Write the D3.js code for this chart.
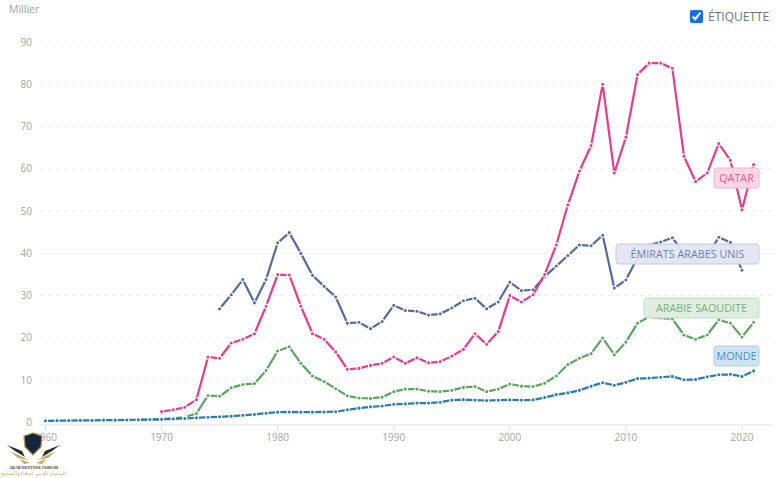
<!DOCTYPE html>
<html><head><meta charset="utf-8">
<script src="https://d3js.org/d3.v7.min.js"></script>
<style>
html,body{margin:0;padding:0;background:#fff;overflow:hidden}
#wrap{position:relative;width:776px;height:478px;font-family:"Open Sans",sans-serif}
svg{position:absolute;left:0;top:0}
#tog{position:absolute;left:690px;top:8px;display:flex;align-items:center;font-size:12px;color:#6c757d}
#tog input{margin:0 5px 0 0;width:13px;height:13px;accent-color:#0b6ffd}
</style></head><body>
<div id="wrap"><svg id="c" width="776" height="478"></svg>
<label id="tog"><input type="checkbox" checked>ÉTIQUETTE</label></div>
<script>
const yTicks=[0,10,20,30,40,50,60,70,80,90];
const xTicks=[1960,1970,1980,1990,2000,2010,2020];
const yLabel="Millier";
const qatarStart=1970;
const qatar=[2.6,3.0,3.6,5.4,15.5,15.2,18.8,19.7,21.0,27.5,35,34.9,27.5,21,19.7,16.7,12.6,12.8,13.5,14,15.5,14,15.3,14.1,14.4,15.7,17.3,21,18.5,21.5,30,28.5,30.2,35,42,51.5,59.5,65.5,80,59,67.5,82.3,85,85,83.8,63,57,59,66,62,50.3,61];
const uaeStart=1975;
const uae=[26.9,30.2,33.8,28.3,33.8,42.5,44.9,40,34.8,32.2,29.7,23.5,23.7,22.2,23.9,27.7,26.5,26.3,25.4,25.7,27.1,28.8,29.4,26.9,28.5,33.2,31.2,31.4,34.5,37,39.5,42,41.8,44.3,31.8,33.7,39,42,42.7,43.7,40,38.3,39.5,43.8,42.6,36];
const saudiStart=1968;
const saudi=[0.7,0.7,0.8,1.0,1.3,2.1,6.4,6.2,8.2,9.0,9.2,12.3,16.9,17.9,14,11,9.7,8,6.3,5.8,5.7,6,7.3,7.9,7.9,7.4,7.3,7.6,8.3,8.5,7.3,7.9,9.1,8.6,8.5,9.3,11,13.7,15.2,16.3,20,16,19,23.5,25,24.7,24.5,20.7,19.7,20.7,24.3,23.5,20.2,23.7];
const worldStart=1960;
const world=[.4,.45,.45,.5,.5,.55,.55,.6,.65,.7,.75,.85,.95,1.1,1.25,1.35,1.5,1.7,1.9,2.2,2.45,2.5,2.45,2.45,2.5,2.55,3.0,3.4,3.7,3.9,4.3,4.4,4.6,4.6,4.8,5.3,5.4,5.3,5.2,5.3,5.35,5.3,5.35,5.9,6.6,7.0,7.6,8.6,9.4,8.8,9.5,10.4,10.5,10.7,10.9,10.1,10.2,10.8,11.3,11.4,10.9,12.2];
const series=[
 {name:"ÉMIRATS ARABES UNIS",start:uaeStart,v:uae,c:"#566a9c",bg:"#e3e6f1",bd:"#c5cae0",right:759,w:143,ly:254},
 {name:"QATAR",start:qatarStart,v:qatar,c:"#e63c8c",bg:"#f9d5e4",bd:"#f4b3cf",right:759,w:45,ly:178},
 {name:"ARABIE SAOUDITE",start:saudiStart,v:saudi,c:"#5ba55f",bg:"#deecdf",bd:"#bfe0c1",right:759,w:115,ly:308},
 {name:"MONDE",start:worldStart,v:world,c:"#2a7ab8",bg:"#cfe2f2",bd:"#a9cde9",right:759,w:45,ly:356}
];
const svg=d3.select("#c");
const x=d3.scaleLinear().domain([1960,2020]).range([45.5,742]);
const y=d3.scaleLinear().domain([0,90]).range([422.5,42]);
const grey="#a4a4a4";
svg.append("text").attr("x",9).attr("y",13).attr("font-size",10.5).attr("fill","#9a9ea3").text(yLabel);
const gy=svg.append("g");
gy.selectAll("line").data(yTicks.filter(d=>d>0)).join("line")
 .attr("x1",40).attr("x2",773).attr("y1",d=>y(d)).attr("y2",d=>y(d))
 .attr("stroke","#ececec").attr("stroke-width",1).attr("stroke-dasharray","4 4");
gy.selectAll("text").data(yTicks).join("text")
 .attr("x",32).attr("y",d=>y(d)+3.5).attr("text-anchor","end").attr("font-size",10).attr("fill",grey).text(d=>d);
const gx=svg.append("g");
gx.append("line").attr("x1",40).attr("x2",773).attr("y1",425).attr("y2",425).attr("stroke","#eef0f1").attr("stroke-width",2);
gx.selectAll("line.t").data(xTicks).join("line").attr("class","t")
 .attr("x1",d=>x(d)).attr("x2",d=>x(d)).attr("y1",426).attr("y2",431).attr("stroke","#e2e2e2");
gx.selectAll("text").data(xTicks).join("text")
 .attr("x",d=>x(d)).attr("y",441).attr("text-anchor","middle").attr("font-size",10).attr("fill",grey).text(d=>d);
const line=d3.line().x(d=>x(d.year)).y(d=>y(d.val));
series.forEach(s=>{
 const pts=s.v.map((val,i)=>({year:s.start+i,val}));
 const g=svg.append("g");
 g.append("path").attr("d",line(pts)).attr("fill","none").attr("stroke",s.c).attr("stroke-width",2.2);
 g.selectAll("circle").data(pts).join("circle")
  .attr("cx",d=>x(d.year)).attr("cy",d=>y(d.val)).attr("r",2.1)
  .attr("fill",s.c).attr("stroke","#fff").attr("stroke-width",1.1);
});
series.forEach(s=>{
 const g=svg.append("g");
 g.append("rect").attr("x",s.right-s.w).attr("y",s.ly-10).attr("width",s.w).attr("height",20).attr("rx",3)
  .attr("fill",s.bg).attr("fill-opacity",.95).attr("stroke",s.bd);
 g.append("text").attr("x",s.right-s.w/2).attr("y",s.ly+4).attr("text-anchor","middle").attr("font-size",10.8).attr("fill",s.c).attr("fill-opacity",.85).text(s.name);
});
// watermark
const wm=svg.append("g");
wm.append("path").attr("d","M24 436 L33 433 L42 436 L41 447 L33 455 L25 447 Z").attr("fill","#16263a").attr("stroke","#b99a55").attr("stroke-width",1.3);
wm.append("path").attr("d","M7 445 L22 451 L25 457 L15 451 Z M60 445 L45 451 L42 457 L52 451 Z").attr("fill","#2b2b2b");
wm.append("path").attr("d","M10 451 L29 460 L18 458 Z M56 451 L37 460 L48 458 Z M20 459 L30 463 L24 464 Z M46 459 L36 463 L42 464 Z").attr("fill","#c8a862");
wm.append("text").attr("x",33.5).attr("y",469).attr("text-anchor","middle").attr("font-size",4.2).attr("font-weight",700).attr("font-family","Liberation Serif").attr("fill","#3a3a3a").text("ARAB DEFENSE FORUM");
wm.append("text").attr("x",33.5).attr("y",475).attr("text-anchor","middle").attr("font-size",4.8).attr("fill","#c8a862").text("المنتدى العربي للدفاع والتسليح");
</script></body></html>
